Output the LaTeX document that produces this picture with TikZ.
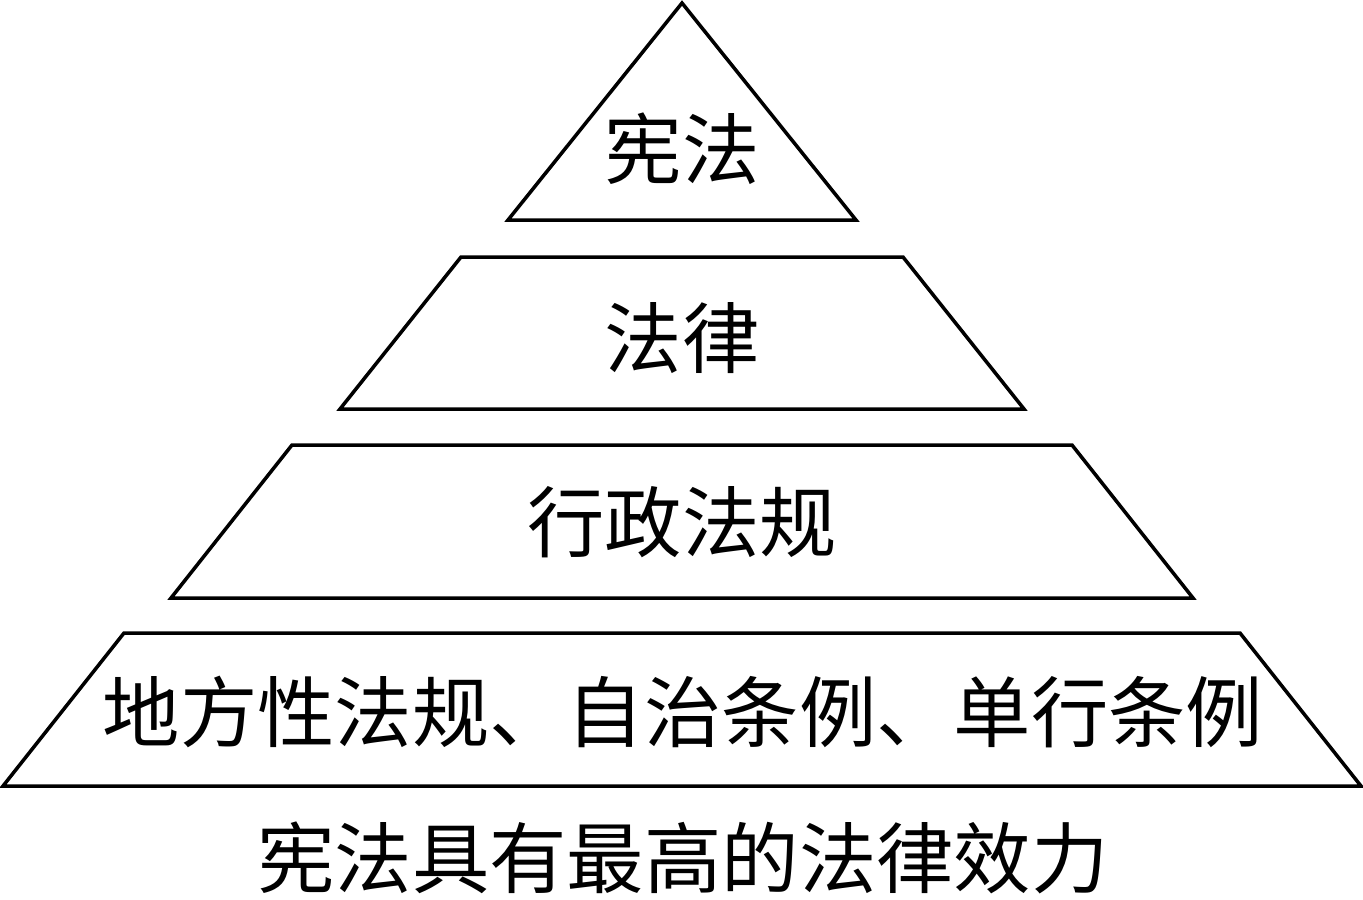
\documentclass[tikz,border=0pt]{standalone}
\usepackage{fontspec}
\newfontfamily\cjk{Noto Sans CJK SC}
\tikzset{level/.style={draw,line width=1pt,line join=miter},
  lbl/.style={font=\cjk\fontsize{22}{24}\selectfont,inner sep=0pt}}

\begin{document}
\begin{tikzpicture}[x=0.01cm,y=-0.01cm]
        \useasboundingbox (0,0) rectangle (1363,899);
        % corners of the levels
        \path (682,3) coordinate (a)
        (508,220) coordinate (al) (856,220) coordinate (ar)
        (461,257) coordinate (b1) (903,257) coordinate (b2)
        (340,409) coordinate (b3) (1024,409) coordinate (b4)
        (292,445) coordinate (c1) (1072,445) coordinate (c2)
        (171,598) coordinate (c3) (1193,598) coordinate (c4)
        (124,633) coordinate (d1) (1240,633) coordinate (d2)
        (3,786) coordinate (d3) (1361,786) coordinate (d4);
        \draw[level] (a) -- (ar) -- (al) -- cycle;
        \draw[level] (b1) -- (b2) -- (b4) -- (b3) -- cycle;
        \draw[level] (c1) -- (c2) -- (c4) -- (c3) -- cycle;
        \draw[level] (d1) -- (d2) -- (d4) -- (d3) -- cycle;
        \path (682,149) node[lbl] (xianfa) {宪法}
        (682,338) node[lbl] (falv) {法律}
        (682,522) node[lbl] (xingzheng) {行政法规}
        (683,712) node[lbl] (difang) {地方性法规、自治条例、单行条例}
        (683,858) node[lbl] (xiaoli) {宪法具有最高的法律效力};
\end{tikzpicture}
\end{document}
